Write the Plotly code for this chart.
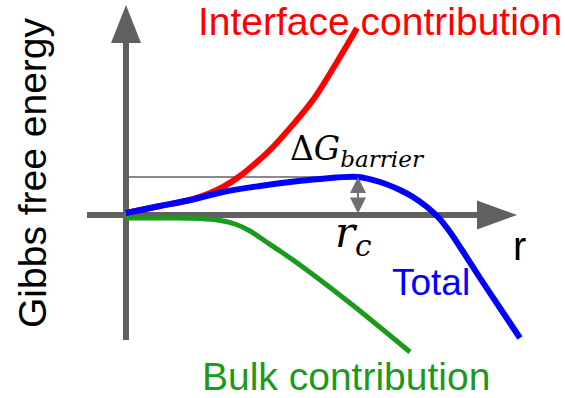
import plotly.graph_objects as go

# Schematic values (r in arbitrary units, G in arbitrary units)
r_interface = [0, 0.34, 0.64, 0.84, 0.97, 1.14, 1.31, 1.47, 1.87, 2.14, 2.31]
G_interface = [0.02, 0.09, 0.15, 0.22, 0.28, 0.39, 0.53, 0.68, 1.15, 1.58, 1.87]

r_total = [0, 0.34, 0.64, 0.97, 1.34, 1.64, 1.94, 2.32, 2.54, 2.74, 2.87, 3.01, 3.12, 3.24, 3.36, 3.54, 3.74, 3.94]
G_total = [0.02, 0.09, 0.15, 0.23, 0.29, 0.33, 0.36, 0.38, 0.33, 0.25, 0.18, 0.08, -0.02, -0.17, -0.35, -0.63, -0.93, -1.23]

r_bulk = [0, 0.44, 0.74, 0.94, 1.09, 1.24, 1.39, 1.54, 1.74, 2.24, 2.84]
G_bulk = [-0.03, -0.03, -0.035, -0.055, -0.09, -0.16, -0.26, -0.36, -0.50, -0.88, -1.37]

labels = {
    "interface": "Interface contribution",
    "bulk": "Bulk contribution",
    "total": "Total",
    "xlabel": "r",
    "ylabel": "Gibbs free energy",
}

RED = "#ff0000"
BLUE = "#0000ff"
GREEN = "#1c9a1c"
AXIS = "#606060"
SANS = "Liberation Sans, Arial, sans-serif"
SERIF = "DejaVu Serif, Liberation Serif, serif"

# barrier derived from the Total curve
i_max = max(range(len(G_total)), key=lambda i: G_total[i])
r_c = r_total[i_max]
G_barrier = G_total[i_max]

fig = go.Figure()
fig.add_trace(go.Scatter(x=r_bulk, y=G_bulk, mode="lines",
                         line=dict(color=GREEN, width=5, shape="spline", smoothing=0.8)))
fig.add_trace(go.Scatter(x=r_interface, y=G_interface, mode="lines",
                         line=dict(color=RED, width=6, shape="spline", smoothing=0.8)))
fig.add_trace(go.Scatter(x=r_total, y=G_total, mode="lines",
                         line=dict(color=BLUE, width=6, shape="spline", smoothing=0.9)))

# axes with arrows
X_MIN, X_MAX, X_TIP = -0.39, 3.51, 3.91
Y_MIN, Y_MAX, Y_TIP = -1.25, 1.72, 2.10
shapes = [
    dict(type="line", x0=X_MIN, x1=X_MAX, y0=0, y1=0, line=dict(color=AXIS, width=6), layer="below"),
    dict(type="line", x0=0, x1=0, y0=Y_MIN, y1=Y_MAX, line=dict(color=AXIS, width=6), layer="below"),
    dict(type="path", path=f"M {X_MAX},-0.145 L {X_TIP},0 L {X_MAX},0.145 Z",
         fillcolor=AXIS, line=dict(width=0), layer="below"),
    dict(type="path", path=f"M -0.15,{Y_MAX} L 0,{Y_TIP} L 0.15,{Y_MAX} Z",
         fillcolor=AXIS, line=dict(width=0), layer="below"),
    dict(type="line", x0=0.03, x1=r_c, y0=G_barrier, y1=G_barrier,
         line=dict(color="#8a8a8a", width=2), layer="below"),
]

annotations = [
    dict(x=2.535, y=1.94, text=labels["interface"], font=dict(family=SANS, size=39, color=RED)),
    dict(x=2.20, y=-1.61, text=labels["bulk"], font=dict(family=SANS, size=39, color=GREEN)),
    dict(x=3.05, y=-0.67, text=labels["total"], font=dict(family=SANS, size=37, color=BLUE)),
    dict(x=3.93, y=-0.31, text=labels["xlabel"], font=dict(family=SANS, size=40, color="black")),
    dict(x=-0.94, y=0.42, text=labels["ylabel"], textangle=-90,
         font=dict(family=SANS, size=39, color="black")),
    dict(x=2.31, y=0.65, text="Δ<i>G</i><sub><i>barrier</i></sub>",
         font=dict(family=SERIF, size=33, color="black")),
    dict(x=2.27, y=-0.20, text="<i>r</i><sub><i>c</i></sub>",
         font=dict(family=SERIF, size=42, color="black")),
    # double-headed arrow for the barrier height
    dict(x=r_c, y=G_barrier, ax=r_c, ay=0, xref="x", yref="y", axref="x", ayref="y",
         text="", showarrow=True, arrowhead=2, arrowside="end+start", arrowsize=1.6,
         arrowwidth=2, arrowcolor="#707070"),
]
for a in annotations:
    a.setdefault("xref", "x")
    a.setdefault("yref", "y")
    a.setdefault("showarrow", False)

fig.update_layout(
    width=565, height=398,
    margin=dict(l=0, r=0, t=0, b=0),
    paper_bgcolor="white", plot_bgcolor="white",
    showlegend=False,
    xaxis=dict(range=[-1.26, 4.39], visible=False, fixedrange=True),
    yaxis=dict(range=[-1.83, 2.15], visible=False, fixedrange=True),
    shapes=shapes,
    annotations=annotations,
)

fig.write_html("out.html", config={"displayModeBar": False},
               post_script="document.body.style.margin='0px';")
